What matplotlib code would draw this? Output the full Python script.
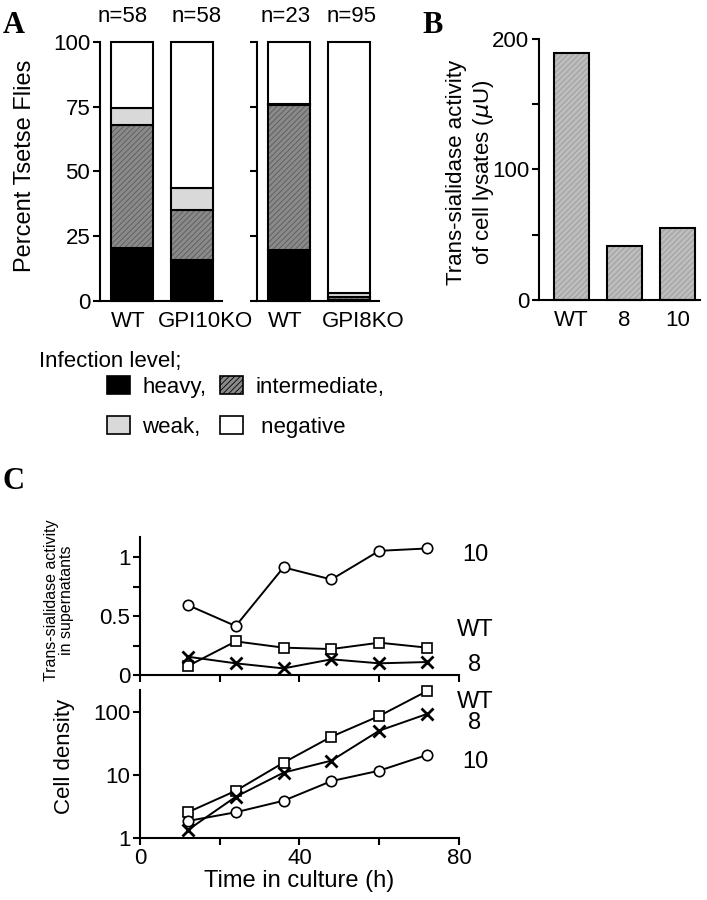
import numpy as np
import matplotlib
matplotlib.use('Agg')
import matplotlib.pyplot as plt
import matplotlib.transforms as mtransforms
from matplotlib import font_manager
from matplotlib.patches import Patch

plt.rcParams['font.family'] = ['Liberation Sans', 'DejaVu Sans']
plt.rcParams['hatch.linewidth'] = 0.6
plt.rcParams['axes.linewidth'] = 1.5

# panel A: infection of tsetse flies (percent)
groups_left = ['WT', 'GPI10KO']
groups_right = ['WT', 'GPI8KO']
n_left = ['n=58', 'n=58']
n_right = ['n=23', 'n=95']
heavy = [20.5, 16.0, 19.5, 0.5]
intermediate = [47.5, 19.0, 56.0, 1.0]
weak = [6.5, 8.5, 0.5, 1.5]
negative = [25.5, 56.5, 24.0, 97.0]

# panel B: trans-sialidase activity of cell lysates (uU)
lysate_lines = ['WT', '8', '10']
lysate_activity = [189, 41, 55]

# panel C: time course
hours = [12, 24, 36, 48, 60, 72]
sup_wt = [0.076, 0.285, 0.232, 0.22, 0.274, 0.232]
sup_8 = [0.155, 0.099, 0.056, 0.133, 0.099, 0.11]
sup_10 = [0.593, 0.415, 0.913, 0.81, 1.053, 1.073]
dens_wt = [2.56, 5.6, 15.7, 40.5, 86.4, 215]
dens_8 = [1.34, 4.5, 10.9, 16.9, 50.5, 93]
dens_10 = [1.86, 2.56, 3.9, 8.0, 11.7, 20.8]

FS = 16
try:
    font_manager.findfont('Liberation Sans Narrow', fallback_to_default=False)
    NARROW = 'Liberation Sans Narrow'
except ValueError:
    NARROW = 'Liberation Sans'

styles = {
    'heavy': dict(color='black', hatch=None, hcolor='black'),
    'intermediate': dict(color='#8a8a8a', hatch='//////', hcolor='#5a5a5a'),
    'weak': dict(color='#d9d9d9', hatch=None, hcolor='#d9d9d9'),
    'negative': dict(color='white', hatch=None, hcolor='white'),
}


def hatched_bar(ax, x, h, bottom, width, color, hatch, hcolor):
    ax.bar(x, h, width, bottom=bottom, color=color, hatch=hatch,
           edgecolor=hcolor, linewidth=0, clip_on=False)
    ax.bar(x, h, width, bottom=bottom, fill=False, edgecolor='black',
           linewidth=1.5, clip_on=False)


def style_axis(ax):
    for s in ['top', 'right']:
        ax.spines[s].set_visible(False)
    ax.tick_params(direction='out', length=5, width=1.5, labelsize=FS, pad=2)


def shift_labels(fig, labels, dxs):
    for lab, dx in zip(labels, dxs):
        off = mtransforms.ScaledTranslation(dx / 100.0, 0, fig.dpi_scale_trans)
        lab.set_transform(lab.get_transform() + off)


def stacked_panel(fig, ax, names, counts, idx, show_labels, lab_dx, n_dx):
    x = np.arange(len(names))
    bottom = np.zeros(len(names))
    layers = [('heavy', heavy), ('intermediate', intermediate),
              ('weak', weak), ('negative', negative)]
    for key, vals in layers:
        v = np.array([vals[i] for i in idx])
        st = styles[key]
        hatched_bar(ax, x, v, bottom, 0.7, st['color'], st['hatch'], st['hcolor'])
        bottom = bottom + v
    ax.set_xlim(-0.53, 1.5)
    ax.set_ylim(0, 100)
    style_axis(ax)
    ax.set_yticks([0, 25, 50, 75, 100])
    if not show_labels:
        ax.set_yticklabels([])
    ax.set_xticks(x)
    ax.set_xticklabels(names)
    ax.tick_params(axis='x', length=0, pad=7)
    shift_labels(fig, ax.get_xticklabels(), lab_dx)
    for i, t in enumerate(counts):
        ax.annotate(t, (x[i], 100), xytext=(n_dx[i] * 0.72, 18),
                    textcoords='offset points', ha='center', va='center',
                    fontsize=FS, annotation_clip=False)


fig = plt.figure(figsize=(7.07, 9.0), dpi=100)

axA1 = fig.add_axes([0.1414, 0.6656, 0.1726, 0.2878])
axA2 = fig.add_axes([0.3635, 0.6656, 0.1726, 0.2878])
stacked_panel(fig, axA1, groups_left, n_left, [0, 1], True, [-4, 14], [-9, 5])
stacked_panel(fig, axA2, groups_right, n_right, [2, 3], False, [-4, 14], [-3, 3])
axA1.set_ylabel('Percent Tsetse Flies', fontsize=FS + 1)
axA1.yaxis.set_label_coords(-0.525, 0.52)

# legend for panel A
fig.text(0.055, 1 - 362 / 900, 'Infection level;', fontsize=FS, va='center', ha='left')
handles = [Patch(facecolor=styles[k]['color'], edgecolor='black', linewidth=1.2,
                 hatch=styles[k]['hatch'])
           for k in ['heavy', 'weak', 'intermediate', 'negative']]
labels = ['heavy,', 'weak,', 'intermediate,', ' negative']
leg = fig.legend(handles, labels, ncol=2, loc='upper left',
                 bbox_to_anchor=(0.151, 1 - 376 / 900), frameon=False,
                 fontsize=FS, handlelength=1.05, handleheight=0.9,
                 handletextpad=0.55, columnspacing=0.6, labelspacing=0.8,
                 borderpad=0, borderaxespad=0)

# panel B
axB = fig.add_axes([0.7624, 0.6667, 0.2277, 0.29])
xb = np.arange(len(lysate_lines))
for i, v in enumerate(lysate_activity):
    hatched_bar(axB, xb[i], v, 0, 0.66, '#bdbdbd', '//////', '#9a9a9a')
axB.set_xlim(-0.61, 2.42)
axB.set_ylim(0, 200)
style_axis(axB)
axB.set_yticks([0, 50, 100, 150, 200])
axB.set_yticklabels(['0', '', '100', '', '200'])
axB.set_xticks(xb)
axB.set_xticklabels(lysate_lines)
axB.tick_params(axis='x', length=0, pad=7)
axB.set_ylabel('Trans-sialidase activity\nof cell lysates ($\\mu$U)', fontsize=FS,
               linespacing=1.2)
axB.yaxis.set_label_coords(-0.27, 0.49)

# panel C top: supernatant activity
axC1 = fig.add_axes([0.198, 0.25, 0.4512, 0.1533])
lw = 1.4
mk = dict(color='black', lw=lw, clip_on=False)
axC1.plot(hours, sup_10, '-o', mfc='white', ms=7.5, mew=1.2, **mk)
axC1.plot(hours, sup_wt, '-s', mfc='white', ms=7.5, mew=1.2, **mk)
axC1.plot(hours, sup_8, '-x', ms=8.5, mew=2, **mk)
axC1.set_xlim(0, 80)
axC1.set_ylim(0, 1.17)
style_axis(axC1)
axC1.set_yticks([0, 0.25, 0.5, 0.75, 1])
axC1.set_yticklabels(['0', '', '0.5', '', '1'])
axC1.set_xticks([0, 20, 40, 60, 80])
axC1.set_xticklabels([])
for lab in axC1.get_yticklabels():
    lab.set_family(NARROW)
axC1.set_ylabel('Trans-sialidase activity\nin supernatants', fontsize=11.5,
                linespacing=1.0)
axC1.yaxis.set_label_coords(-0.207, 0.54)
for lab, y in [('10', 1.02), ('WT', 0.38), ('8', 0.085)]:
    axC1.text(84, y, lab, ha='center', va='center', fontsize=FS + 1,
              family=NARROW, clip_on=False)

# panel C bottom: cell density
axC2 = fig.add_axes([0.198, 0.0689, 0.4512, 0.1644])
axC2.plot(hours, dens_wt, '-s', mfc='white', ms=7.5, mew=1.2, **mk)
axC2.plot(hours, dens_8, '-x', ms=8.5, mew=2, **mk)
axC2.plot(hours, dens_10, '-o', mfc='white', ms=7.5, mew=1.2, **mk)
axC2.set_yscale('log')
axC2.set_xlim(0, 80)
axC2.set_ylim(1, 223)
style_axis(axC2)
axC2.minorticks_off()
axC2.set_yticks([1, 10, 100])
axC2.set_yticklabels(['1', '10', '100'])
axC2.set_xticks([0, 20, 40, 60, 80])
axC2.set_xticklabels(['0', '', '40', '', '80'])
for lab in axC2.get_yticklabels() + axC2.get_xticklabels():
    lab.set_family(NARROW)
axC2.set_ylabel('Cell density', fontsize=FS)
axC2.yaxis.set_label_coords(-0.203, 0.55)
axC2.set_xlabel('Time in culture (h)', fontsize=FS + 1, family=NARROW, labelpad=1)
for lab, y in [('WT', 144), ('8', 67), ('10', 16)]:
    axC2.text(84, y, lab, ha='center', va='center', fontsize=FS + 1,
              family=NARROW, clip_on=False)

# panel letters
for letter, x, y in [('A', 0.004, 0.972), ('B', 0.597, 0.972), ('C', 0.004, 0.465)]:
    fig.text(x, y, letter, fontsize=22, fontweight='bold',
             family='Liberation Serif', va='center', ha='left')

fig.savefig('out.png', dpi=100)
